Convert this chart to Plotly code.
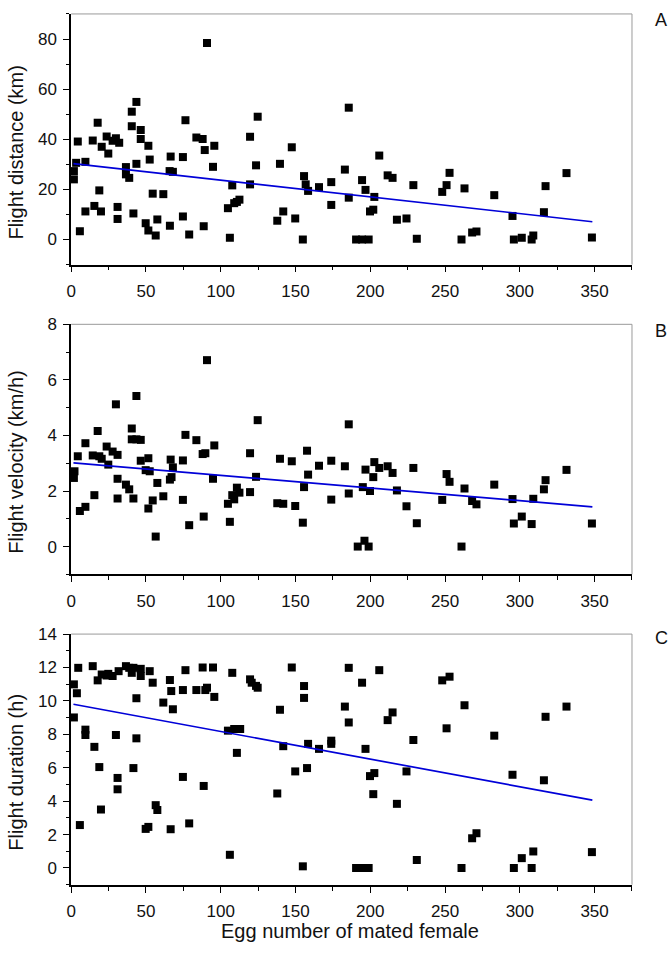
import plotly.graph_objects as go

# ---------------- data ----------------
A_x = [1.8,1.8,3.3,4.4,5.8,9.5,9.5,14.4,15.5,17.7,18.8,20.4,19.9,23.7,24.8,27.7,29.9,32.1,31.0,31.0,
       36.6,36.6,38.8,40.5,40.5,43.6,43.6,41.6,46.5,46.5,49.8,51.6,52.5,51.6,54.5,56.5,57.6,61.6,66.0,66.5,
       65.8,68.0,74.7,74.7,76.4,78.9,83.7,87.9,89.3,88.6,90.8,95.7,94.8,104.8,106.1,107.7,109.0,110.8,112.5,119.6,
       119.6,123.6,124.7,137.8,139.6,141.8,147.5,149.8,154.9,155.7,156.8,158.4,165.7,173.9,173.9,
       183.0,185.6,185.6,190.5,194.5,198.9,194.5,196.8,206.0,199.8,202.0,202.7,211.6,214.9,217.8,
       224.2,228.8,231.1,248.1,251.0,253.0,261.0,263.0,268.1,271.0,282.9,295.1,296.0,301.3,307.9,
       309.0,316.1,317.2,331.2,348.2]
A_y = [27.3,24.0,30.6,39.1,3.3,31.0,11.2,39.5,13.4,46.6,19.6,37.0,11.2,41.1,34.3,39.4,40.4,38.6,13.0,8.2,
       28.9,26.0,24.6,51.0,45.2,54.9,30.2,10.4,43.7,40.1,6.5,37.4,31.9,3.6,18.3,1.6,8.0,18.1,5.5,33.1,
       27.3,27.0,32.9,9.2,47.6,2.0,40.7,40.1,35.7,5.3,78.4,37.4,29.0,12.5,0.7,21.6,14.5,15.0,15.9,41.0,
       22.0,29.6,49.0,7.5,30.2,11.2,36.8,8.4,0.0,25.3,22.0,19.4,20.9,22.9,13.8,
       27.9,52.6,16.7,0.0,0.0,0.0,23.7,19.8,33.5,11.2,11.9,17.0,25.6,24.6,7.9,
       8.4,21.7,0.3,19.0,21.7,26.6,0.0,20.4,2.8,3.2,17.7,9.4,0.0,0.7,0.0,
       1.6,10.9,21.3,26.5,0.8]

B_x = [1.8,2.2,4.4,5.8,9.5,9.5,14.4,15.5,17.7,18.8,20.4,23.7,24.8,27.7,29.9,31.0,31.0,31.0,36.6,38.8,
       40.5,40.5,43.6,41.6,43.6,46.5,46.5,49.8,51.6,52.5,51.6,54.5,56.5,57.6,61.6,66.0,66.5,67.1,68.0,74.7,
       74.7,76.4,78.9,83.7,87.9,89.7,88.6,90.8,95.7,94.8,104.8,106.1,107.7,109.0,110.8,112.5,119.6,119.6,123.6,124.7,
       137.8,139.6,141.8,147.5,149.8,154.9,155.7,157.7,158.4,165.7,173.9,173.9,
       183.0,185.6,185.6,191.6,196.1,198.9,195.0,196.8,199.8,202.0,202.7,206.0,211.6,214.9,217.8,
       224.2,228.8,231.1,248.1,251.0,253.0,261.0,263.0,268.1,271.0,282.9,295.1,296.0,301.3,307.9,
       309.0,316.1,317.2,331.2,348.2]
B_y = [2.47,2.71,3.25,1.28,3.72,1.43,3.28,1.85,4.16,3.25,3.16,3.60,2.95,3.42,5.12,3.30,2.44,1.73,2.23,2.06,
       4.25,3.86,5.42,1.73,3.86,3.84,3.09,2.75,3.18,2.71,1.37,1.66,0.36,2.29,1.81,2.41,3.13,2.50,2.85,3.10,
       1.68,4.02,0.77,3.83,3.33,3.36,1.08,6.71,3.64,2.44,1.54,0.89,1.85,1.70,2.12,1.94,3.36,1.96,2.51,4.55,
       1.56,3.16,1.54,3.07,1.46,0.86,2.14,3.45,2.59,2.91,3.09,1.69,
       2.89,4.40,1.91,0.0,0.21,0.0,2.14,2.77,2.00,2.50,3.04,2.83,2.89,2.65,2.02,
       1.45,2.83,0.84,1.68,2.61,2.33,0.0,2.09,1.64,1.52,2.23,1.71,0.83,1.08,0.81,
       1.72,2.06,2.39,2.76,0.83]

C_x = [1.8,1.8,3.8,4.7,5.8,9.5,9.5,14.4,15.5,17.7,18.8,19.9,20.4,23.7,24.8,27.7,29.9,31.0,31.0,31.7,
       36.6,38.8,40.5,41.6,41.6,43.6,43.6,46.5,46.5,49.8,51.6,52.5,54.5,56.5,57.6,61.6,66.0,66.5,66.9,68.0,
       74.7,74.7,76.4,78.9,83.7,87.9,88.6,89.7,90.8,94.8,95.7,104.8,106.1,107.7,109.0,110.8,110.8,113.0,119.6,120.7,
       123.6,124.7,137.8,139.6,141.8,147.5,149.8,154.9,155.7,155.7,157.7,158.4,165.7,173.9,173.9,
       183.0,185.6,185.6,194.5,196.8,190.5,194.5,198.9,199.8,202.7,202.0,206.0,211.6,214.9,217.8,
       224.2,228.8,231.1,248.1,253.0,251.0,261.0,263.0,268.1,271.0,282.9,295.1,296.0,301.3,307.9,
       309.0,316.1,317.2,331.2,348.2]
C_y = [10.99,9.01,10.46,11.98,2.57,8.28,7.96,12.08,7.25,11.23,6.04,3.50,11.58,11.52,11.62,11.49,7.96,5.39,4.71,11.78,
       12.08,11.98,11.68,5.98,11.98,10.16,7.76,11.92,11.49,2.34,2.46,11.78,11.09,3.76,3.47,9.90,11.25,2.32,10.59,9.50,
       5.45,10.65,11.84,2.67,10.65,12.00,4.91,10.65,10.79,12.00,10.24,8.22,0.79,11.68,8.32,6.89,8.32,8.32,11.29,11.09,
       10.90,10.79,4.46,9.47,7.29,12.00,5.78,0.10,10.89,10.18,5.98,7.43,7.13,7.62,7.43,
       9.66,11.98,8.71,11.09,7.13,0.0,0.0,0.0,5.50,5.68,4.42,11.84,8.85,9.31,3.84,
       5.78,7.66,0.48,11.23,11.45,8.36,0.0,9.74,1.78,2.08,7.92,5.58,0.0,0.59,0.0,
       0.99,5.25,9.05,9.66,0.95]

# fitted regression lines (end points)
fit_x = [1.5, 348.5]
fit_A = [30.3, 7.1]
fit_B = [3.01, 1.43]
fit_C = [9.80, 4.06]

y_titles = ["Flight distance (km)", "Flight velocity (km/h)", "Flight duration (h)"]
panel_labels = ["A", "B", "C"]
x_title = "Egg number of mated female"

# ---------------- figure ----------------
W, H = 671, 959
FONT = "Liberation Sans, Arial, sans-serif"
fig = go.Figure()

panels = [(A_x, A_y, fit_A), (B_x, B_y, fit_B), (C_x, C_y, fit_C)]
for i, (px_, py_, fy) in enumerate(panels):
    sfx = "" if i == 0 else str(i + 1)
    fig.add_trace(go.Scatter(x=px_, y=py_, mode="markers", xaxis="x" + sfx, yaxis="y" + sfx,
                             marker=dict(symbol="square", size=8, color="black", line=dict(width=0)),
                             cliponaxis=False, showlegend=False, hoverinfo="x+y"))
    fig.add_trace(go.Scatter(x=fit_x, y=fy, mode="lines", xaxis="x" + sfx, yaxis="y" + sfx,
                             line=dict(color="#0000d8", width=1.7), showlegend=False))

# domains in pixels (top, bottom)
left_px, right_px = 66.7, 631.7
rows_px = [(5, 258), (318.3, 570.7), (631, 884)]
yranges = [[-10, 90], [-1, 8], [-1, 14]]
ydticks = [20, 2, 2]
yminor = [10, 1, 1]
title_y_px = [144, 457, 770]
label_y_px = [10.7, 325, 635]

xdom = [left_px / W, right_px / W]
layout = dict(width=W, height=H, autosize=False,
              margin=dict(l=0, r=0, t=0, b=0),
              paper_bgcolor="white", plot_bgcolor="white",
              font=dict(family=FONT, color="#111111"))
annotations = []
shapes = []
for i in range(3):
    sfx = "" if i == 0 else str(i + 1)
    top, bot = rows_px[i]
    ydom = [1 - bot / H, 1 - top / H]
    layout["xaxis" + sfx] = dict(
        domain=xdom, anchor="y" + sfx, range=[0, 375], dtick=50, tick0=0,
        showline=True, linecolor="black", linewidth=1.6, mirror=False,
        ticks="outside", ticklen=6, tickwidth=1.4, tickcolor="black",
        minor=dict(dtick=25, tick0=0, ticks="outside", ticklen=4, tickwidth=1.2, tickcolor="black"),
        showgrid=False, zeroline=False, tickfont=dict(size=17, family=FONT, color="#111111"),
        ticklabelstandoff=4, fixedrange=True)
    layout["yaxis" + sfx] = dict(
        domain=ydom, anchor="x" + sfx, range=yranges[i], dtick=ydticks[i], tick0=0,
        showline=True, linecolor="black", linewidth=1.6, mirror=False,
        ticks="outside", ticklen=6, tickwidth=1.4, tickcolor="black",
        minor=dict(dtick=yminor[i], tick0=0, ticks="outside", ticklen=3, tickwidth=1.2, tickcolor="black"),
        showgrid=False, zeroline=False, tickfont=dict(size=17, family=FONT, color="#111111"),
        ticklabelstandoff=3, fixedrange=True)
    xr = "x" + sfx + " domain"
    yr = "y" + sfx + " domain"
    shapes.append(dict(type="line", xref=xr, yref=yr, x0=0, x1=1, y0=1, y1=1,
                       line=dict(color="#9a9a9a", width=1)))
    shapes.append(dict(type="line", xref=xr, yref=yr, x0=1, x1=1, y0=0, y1=1,
                       line=dict(color="#9a9a9a", width=1)))
    annotations.append(dict(text=y_titles[i], xref="paper", yref="paper",
                            x=11 / W, y=1 - title_y_px[i] / H, textangle=-90,
                            xanchor="center", yanchor="middle", showarrow=False,
                            font=dict(size=20, family=FONT, color="#111111")))
    annotations.append(dict(text=panel_labels[i], xref="paper", yref="paper",
                            x=661 / W, y=1 - label_y_px[i] / H,
                            xanchor="center", yanchor="middle", showarrow=False,
                            font=dict(size=18, family=FONT, color="#111111")))

annotations.append(dict(text=x_title, xref="paper", yref="paper",
                        x=347.5 / W, y=1 - 931 / H, xanchor="center", yanchor="middle",
                        showarrow=False, font=dict(size=20, family=FONT, color="#111111")))
layout["annotations"] = annotations
layout["shapes"] = shapes
fig.update_layout(**layout)

fig.write_html("out.html", config={"displayModeBar": False},
               post_script="document.body.style.margin='0px';document.body.style.overflow='hidden';")
